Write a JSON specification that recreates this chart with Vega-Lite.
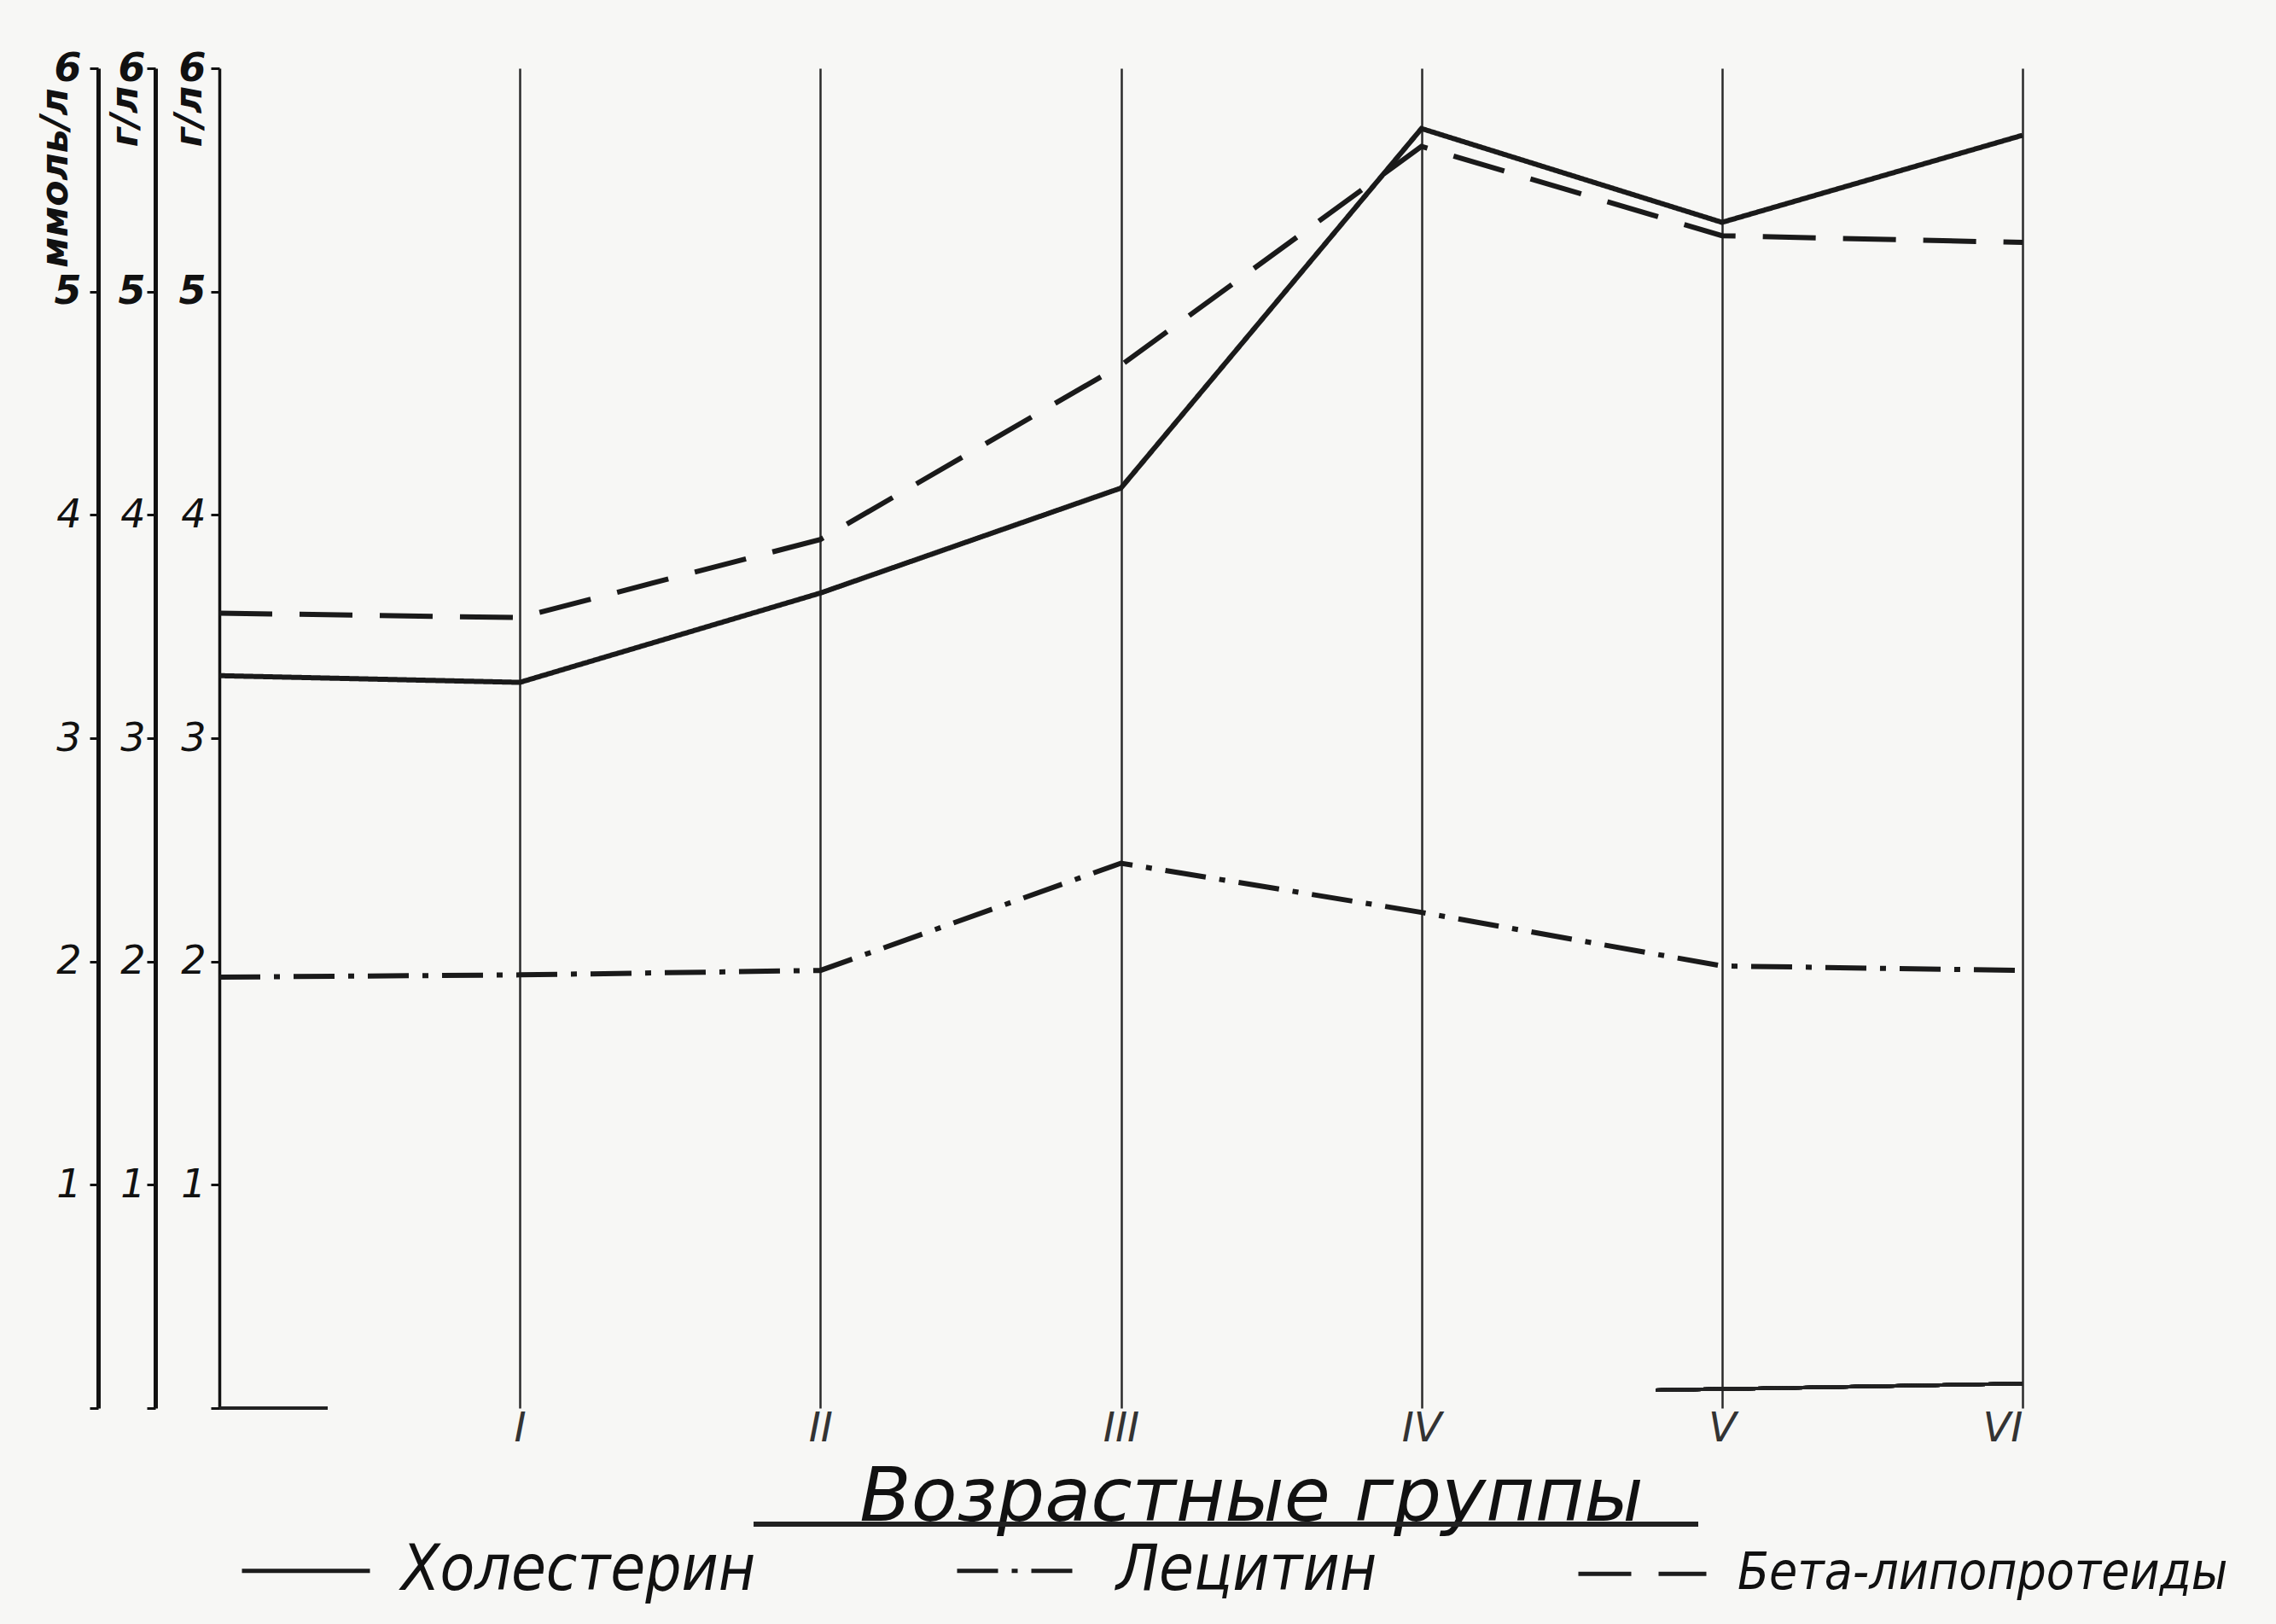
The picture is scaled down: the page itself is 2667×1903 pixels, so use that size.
{
  "$schema": "https://vega.github.io/schema/vega-lite/v6.json",
  "autosize": {"type": "none"},
  "width": 2113,
  "height": 1570,
  "padding": {"left": 257, "top": 80, "right": 297, "bottom": 253},
  "background": "#f7f7f5",
  "config": {"view": {"stroke": null}, "font": "DejaVu Sans"},
  "data": {
    "values": [
      {"series": "Холестерин", "group": 0, "value": 3.28},
      {"series": "Холестерин", "group": 1, "value": 3.25},
      {"series": "Холестерин", "group": 2, "value": 3.65},
      {"series": "Холестерин", "group": 3, "value": 4.12},
      {"series": "Холестерин", "group": 4, "value": 5.73},
      {"series": "Холестерин", "group": 5, "value": 5.31},
      {"series": "Холестерин", "group": 6, "value": 5.70},
      {"series": "Лецитин", "group": 0, "value": 1.93},
      {"series": "Лецитин", "group": 1, "value": 1.94},
      {"series": "Лецитин", "group": 2, "value": 1.96},
      {"series": "Лецитин", "group": 3, "value": 2.44},
      {"series": "Лецитин", "group": 4, "value": 2.22},
      {"series": "Лецитин", "group": 5, "value": 1.98},
      {"series": "Лецитин", "group": 6, "value": 1.96},
      {"series": "Бета-липопротеиды", "group": 0, "value": 3.56},
      {"series": "Бета-липопротеиды", "group": 1, "value": 3.54},
      {"series": "Бета-липопротеиды", "group": 2, "value": 3.89},
      {"series": "Бета-липопротеиды", "group": 3, "value": 4.67},
      {"series": "Бета-липопротеиды", "group": 4, "value": 5.65},
      {"series": "Бета-липопротеиды", "group": 5, "value": 5.25},
      {"series": "Бета-липопротеиды", "group": 6, "value": 5.22}
    ]
  },
  "layer": [
    {
      "layer": [
        {
          "mark": {"type": "line", "color": "#1a1a1a", "strokeWidth": 6},
          "encoding": {
            "x": {
              "field": "group", "type": "quantitative",
              "scale": {"domain": [0, 6], "nice": false},
              "axis": {
                "values": [1, 2, 3, 4, 5, 6],
                "labelExpr": "['','I','II','III','IV','V','VI'][datum.value]",
                "grid": true, "gridColor": "#2a2a2a", "gridWidth": 2.5, "gridOpacity": 1,
                "domain": false, "ticks": false,
                "labelPadding": 0, "labelFontSize": 48, "labelFontStyle": "italic",
                "labelFont": "DejaVu Sans", "labelColor": "#333",
                "title": "Возрастные группы",
                "titleX": 1209, "titleY": 131, "titleAlign": "center", "titleBaseline": "alphabetic",
                "titleFontSize": 88, "titleFontStyle": "italic", "titleFontWeight": "normal",
                "titleFont": "DejaVu Sans", "titleColor": "#111"
              }
            },
            "y": {
              "field": "value", "type": "quantitative",
              "scale": {"domain": [0, 6], "nice": false},
              "axis": {
                "orient": "left", "offset": 0,
                "values": [0, 1, 2, 3, 4, 5, 6],
                "labelExpr": "datum.value == 0 ? '' : format(datum.value, 'd')",
                "grid": false,
                "domainColor": "#111", "domainWidth": 3.5,
                "tickColor": "#111", "tickWidth": 3, "tickSize": 10,
                "labelPadding": 6, "labelFontSize": 46, "labelFontStyle": "italic",
                "labelFont": "DejaVu Sans", "labelColor": "#111",
                "labelFontWeight": {"condition": {"test": "datum.value >= 5", "value": "bold"}, "value": "normal"},
                "title": "г/л", "titleAngle": -90, "titleX": -35, "titleY": 56,
                "titleAlign": "center", "titleBaseline": "middle",
                "titleFontSize": 44, "titleFontWeight": "bold", "titleFontStyle": "italic",
                "titleFont": "DejaVu Sans", "titleColor": "#111"
              }
            },
            "strokeDash": {
              "field": "series", "type": "nominal",
              "scale": {
                "domain": ["Холестерин", "Лецитин", "Бета-липопротеиды"],
                "range": [[1, 0], [48, 16, 7, 16], [62, 32]]
              },
              "legend": {
                "orient": "none", "legendX": 24, "legendY": 1683,
                "direction": "horizontal", "title": null,
                "symbolType": "stroke", "symbolSize": 22500, "symbolStrokeWidth": 5,
                "symbolStrokeColor": "#1c1c1c",
                "labelFontSize": 74, "labelFont": "DejaVu Sans Condensed, DejaVu Sans",
                "labelFontStyle": "italic", "labelOffset": 34, "columnPadding": 225,
                "labelLimit": 1000, "labelColor": "#111",
                "encode": {
                  "labels": {
                    "update": {
                      "fontSize": {"signal": "datum.label == 'Бета-липопротеиды' ? 60 : 74"}
                    }
                  }
                }
              }
            }
          }
        },
        {
          "mark": {"type": "rule", "color": "#222", "strokeWidth": 6},
          "encoding": {
            "x": {"datum": 1.78},
            "x2": {"datum": 4.92},
            "y": {"datum": -0.52, "scale": {"domain": [0, 6], "nice": false}}
          }
        },
        {
          "mark": {"type": "rule", "color": "#222", "strokeWidth": 3},
          "encoding": {
            "x": {"datum": 0},
            "x2": {"datum": 0.36},
            "y": {"datum": 0, "scale": {"domain": [0, 6], "nice": false}}
          }
        },
        {
          "mark": {"type": "rule", "color": "#222", "strokeWidth": 4},
          "encoding": {
            "x": {"datum": 4.78},
            "x2": {"datum": 6.0},
            "y": {"datum": 0.08, "scale": {"domain": [0, 6], "nice": false}},
            "y2": {"datum": 0.11}
          }
        }
      ]
    },
    {
      "mark": {"type": "point", "opacity": 0},
      "encoding": {
        "y": {
          "field": "value", "type": "quantitative",
          "scale": {"domain": [0, 6], "nice": false},
          "axis": {
            "orient": "left", "offset": 75,
            "values": [0, 1, 2, 3, 4, 5, 6],
            "labelExpr": "datum.value == 0 ? '' : format(datum.value, 'd')",
            "grid": false,
            "domainColor": "#111", "domainWidth": 5,
            "tickColor": "#111", "tickWidth": 3, "tickSize": 10,
            "labelPadding": 2, "labelFontSize": 46, "labelFontStyle": "italic",
            "labelFont": "DejaVu Sans", "labelColor": "#111",
            "labelFontWeight": {"condition": {"test": "datum.value >= 5", "value": "bold"}, "value": "normal"},
            "title": "г/л", "titleAngle": -90, "titleX": -35, "titleY": 56,
            "titleAlign": "center", "titleBaseline": "middle",
            "titleFontSize": 44, "titleFontWeight": "bold", "titleFontStyle": "italic",
            "titleFont": "DejaVu Sans", "titleColor": "#111"
          }
        }
      }
    },
    {
      "mark": {"type": "point", "opacity": 0},
      "encoding": {
        "y": {
          "field": "value", "type": "quantitative",
          "scale": {"domain": [0, 6], "nice": false},
          "axis": {
            "orient": "left", "offset": 142,
            "values": [0, 1, 2, 3, 4, 5, 6],
            "labelExpr": "datum.value == 0 ? '' : format(datum.value, 'd')",
            "grid": false,
            "domainColor": "#111", "domainWidth": 5,
            "tickColor": "#111", "tickWidth": 3, "tickSize": 10,
            "labelPadding": 10, "labelFontSize": 46, "labelFontStyle": "italic",
            "labelFont": "DejaVu Sans", "labelColor": "#111",
            "labelFontWeight": {"condition": {"test": "datum.value >= 5", "value": "bold"}, "value": "normal"},
            "title": "ммоль/л", "titleAngle": -90, "titleX": -50, "titleY": 128,
            "titleAlign": "center", "titleBaseline": "middle",
            "titleFontSize": 44, "titleFontWeight": "bold", "titleFontStyle": "italic",
            "titleFont": "DejaVu Sans", "titleColor": "#111"
          }
        }
      }
    }
  ],
  "resolve": {"scale": {"y": "independent"}, "axis": {"y": "independent"}}
}
